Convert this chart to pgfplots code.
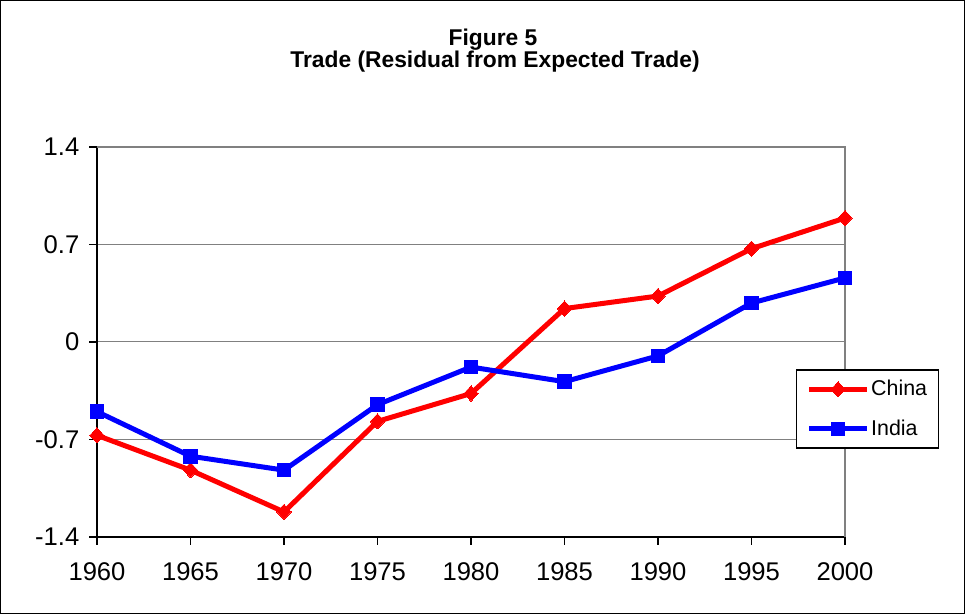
\documentclass[border=0pt]{standalone}
\usepackage{fontspec}
\setmainfont{Liberation Sans}
\usepackage{pgfplots}
\pgfplotsset{compat=1.18}
\definecolor{xred}{RGB}{255,0,0}
\definecolor{xblue}{RGB}{0,0,255}
\definecolor{xgrid}{RGB}{128,128,128}
\begin{document}
\begin{tikzpicture}[x=1pt,y=1pt]
\path[draw=black,line width=0.6pt] (0.3,0.3) rectangle (482.2,306.7);
\node[font=\bfseries\fontsize{11.4}{12}\selectfont,anchor=base] at (246.5,284) {Figure 5};
\node[font=\bfseries\fontsize{11.4}{12}\selectfont,anchor=base] at (247.5,273) {Trade (Residual from Expected Trade)};
\begin{axis}[
  at={(48.5pt,38.5pt)}, anchor=south west,
  width=374pt, height=195pt, scale only axis,
  xmin=1960, xmax=2000, ymin=-1.4, ymax=1.4,
  xtick={1960,1965,...,2000},
  xticklabels={1960,1965,1970,1975,1980,1985,1990,1995,2000},
  ytick={-1.4,-0.7,0,0.7,1.4},
  yticklabels={-1.4,-0.7,0,0.7,1.4},
  tick align=outside, major tick length=3.8pt,
  tick style={black,line width=0.6pt},
  xtick pos=bottom, ytick pos=left,
  ymajorgrids, grid style={xgrid,line width=0.5pt},
  axis line style={xgrid,line width=0.6pt},
  axis x line*=bottom, axis y line*=left,
  x axis line style={black}, y axis line style={black},
  ticklabel style={font=\fontsize{12.8}{14}\selectfont},
  xticklabel style={yshift=-5.5pt},
  yticklabel style={xshift=-1.5pt},
  clip=false,
  legend style={at={(0.9345,0.4295)},anchor=north west,draw=black,line width=0.6pt,
    font=\fontsize{10.7}{12}\selectfont,row sep=6.5pt,inner xsep=5pt,inner ysep=3pt,
    legend cell align=left, nodes={inner xsep=0.8pt},
    /tikz/every odd column/.style={column sep=0pt}},
  legend image code/.code={\draw[#1,mark repeat=2,mark phase=2] plot coordinates {(0pt,0pt) (14.5pt,0pt) (29pt,0pt)};},
]
\draw[xgrid,line width=0.6pt] (rel axis cs:0,1) -- (rel axis cs:1,1) -- (rel axis cs:1,0);
\addplot[xred,line width=2.5pt,mark=diamond*,mark size=3.8pt,mark options={solid,line width=0pt,xscale=1.25}] coordinates {
(1960,-0.67) (1965,-0.92) (1970,-1.22) (1975,-0.57) (1980,-0.37) (1985,0.24) (1990,0.33) (1995,0.67) (2000,0.89)};
\addlegendentry{China}
\addplot[xblue,line width=2.5pt,mark=square*,mark size=3.4pt,mark options={solid,line width=0pt}] coordinates {
(1960,-0.50) (1965,-0.82) (1970,-0.92) (1975,-0.45) (1980,-0.18) (1985,-0.285) (1990,-0.10) (1995,0.28) (2000,0.46)};
\addlegendentry{India}
\end{axis}
\end{tikzpicture}
\end{document}
